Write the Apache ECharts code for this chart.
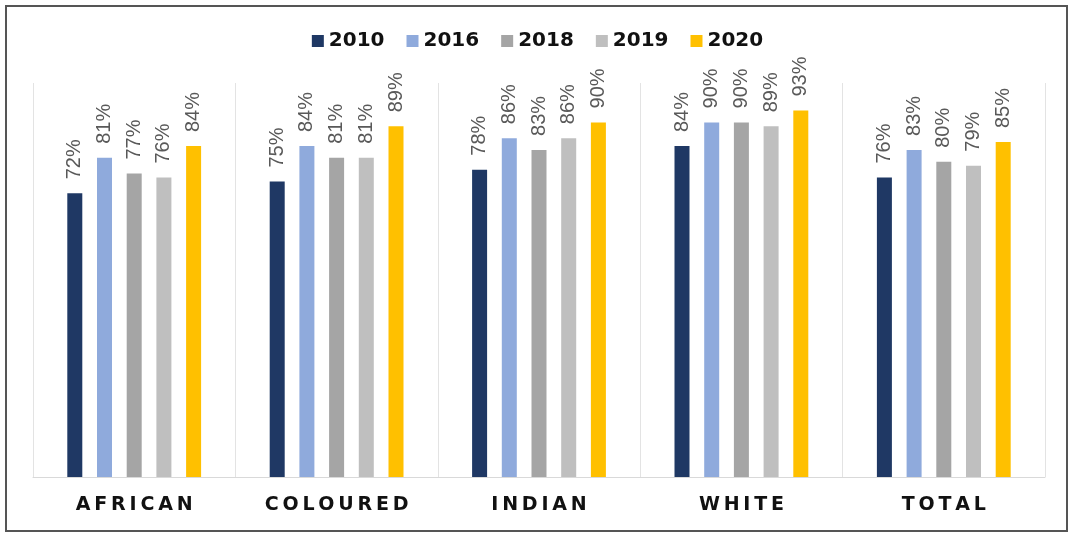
<!DOCTYPE html>
<html>
<head>
<meta charset="utf-8">
<script src="https://cdn.jsdelivr.net/npm/echarts@6/dist/echarts.min.js"></script>
<style>
  html, body { margin: 0; padding: 0; background: #fff; }
  #chart { width: 1075px; height: 549px; }
</style>
</head>
<body>
<div id="chart"></div>
<script>
// categories & values
const categories = ['AFRICAN', 'COLOURED', 'INDIAN', 'WHITE', 'TOTAL'];
const years = ['2010', '2016', '2018', '2019', '2020'];
const v2010 = [72, 75, 78, 84, 76];
const v2016 = [81, 84, 86, 90, 83];
const v2018 = [77, 81, 83, 90, 80];
const v2019 = [76, 81, 86, 89, 79];
const v2020 = [84, 89, 90, 93, 85];
const colors = ['#1f3864', '#8faadc', '#a5a5a5', '#bfbfbf', '#ffc000'];

const myChart = echarts.init(document.getElementById('chart'));

const seriesValues = [v2010, v2016, v2018, v2019, v2020];

const option = {
    animation: false,
    backgroundColor: '#fff',
    color: colors,
    legend: {
        data: years,
        top: 26,
        left: 'center',
        itemWidth: 12,
        itemHeight: 12,
        itemGap: 22,
        icon: 'rect',
        textStyle: {
            color: '#111',
            fontFamily: 'DejaVu Sans',
            fontWeight: 'bold',
            fontSize: 20
        }
    },
    grid: {
        left: 33,
        right: 30,
        top: 83,
        bottom: 72
    },
    xAxis: {
        type: 'category',
        data: categories,
        axisTick: { show: false },
        axisLine: {
            lineStyle: { color: '#d9d9d9', width: 1 }
        },
        splitLine: {
            show: true,
            lineStyle: { color: '#e3e3e3', width: 1 }
        },
        axisLabel: {
            margin: 19,
            color: '#111',
            fontFamily: 'DejaVu Sans',
            fontWeight: 'bold',
            fontSize: 19,
            // spread letters like the wide tracking in the reference
            formatter: v => v.split('').join('\u2009')
        }
    },
    yAxis: {
        type: 'value',
        min: 0,
        max: 100,
        show: false,
        splitLine: { show: false }
    },
    graphic: [{
        type: 'rect',
        shape: { x: 6, y: 6, width: 1061, height: 525 },
        style: { fill: 'none', stroke: '#555', lineWidth: 2 },
        silent: true
    }],
    series: years.map((y, i) => ({
        name: y,
        type: 'bar',
        barWidth: 15,
        barGap: '98%',
        data: seriesValues[i],
        itemStyle: { color: colors[i] },
        label: {
            show: true,
            position: 'top',
            rotate: 90,
            align: 'left',
            verticalAlign: 'middle',
            distance: 14,
            color: '#595959',
            fontFamily: 'Liberation Sans',
            fontSize: 20,
            formatter: p => p.value + '%'
        }
    }))
};

myChart.setOption(option);
</script>
</body>
</html>
